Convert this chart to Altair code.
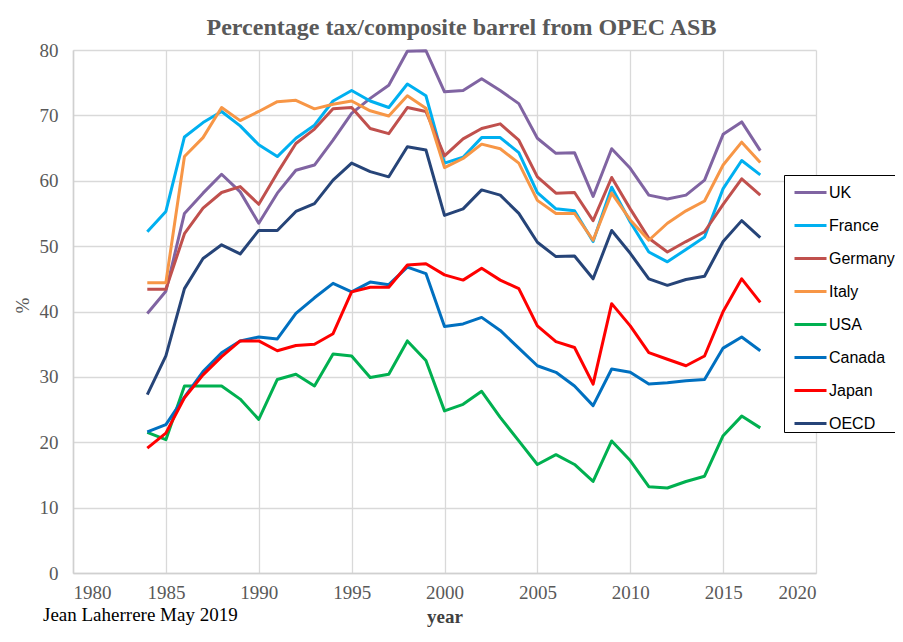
import altair as alt
import pandas as pd

years = list(range(1984, 2018))
series_names = ["UK", "France", "Germany", "Italy", "USA", "Canada", "Japan", "OECD"]
series_colors = ["#8064A2", "#00B0F0", "#C0504D", "#F79646", "#00B050", "#0070C0", "#FF0000", "#264478"]

uk = [39.7, 43.1, 55.0, 58.1, 61.0, 58.3, 53.5, 58.1, 61.6, 62.4, 66.2, 70.3, 72.6, 74.6, 79.8, 79.9,
      73.6, 73.8, 75.6, 73.8, 71.8, 66.5, 64.2, 64.3, 57.6, 64.9, 61.9, 57.8, 57.2, 57.8, 60.1, 67.1, 69.0, 64.6]
france = [52.2, 55.3, 66.7, 68.9, 70.6, 68.4, 65.5, 63.7, 66.5, 68.5, 72.2, 73.8, 72.2, 71.2, 74.8, 73.0,
          62.7, 63.6, 66.6, 66.6, 64.3, 58.2, 55.7, 55.4, 50.7, 59.0, 53.7, 49.1, 47.6, 49.5, 51.4, 58.8, 63.1, 60.9]
germany = [43.4, 43.4, 51.9, 55.8, 58.2, 59.1, 56.4, 61.2, 65.7, 67.9, 71.0, 71.2, 68.0, 67.2, 71.2, 70.6,
           63.8, 66.4, 68.0, 68.7, 66.2, 60.6, 58.1, 58.2, 53.9, 60.5, 55.7, 51.2, 49.1, 50.7, 52.2, 56.4, 60.3, 57.8]
italy = [44.4, 44.4, 63.7, 66.6, 71.2, 69.2, 70.6, 72.1, 72.3, 71.0, 71.7, 72.2, 70.7, 69.9, 73.0, 71.1,
         62.0, 63.4, 65.6, 64.9, 62.7, 57.0, 55.0, 55.0, 50.9, 58.1, 54.0, 50.9, 53.5, 55.4, 56.9, 62.4, 65.9, 62.8]
usa = [21.5, 20.4, 28.6, 28.6, 28.6, 26.6, 23.5, 29.6, 30.4, 28.6, 33.5, 33.2, 29.9, 30.4, 35.5, 32.5,
       24.8, 25.8, 27.8, 23.8, 20.2, 16.6, 18.1, 16.6, 14.0, 20.2, 17.2, 13.2, 13.0, 14.0, 14.8, 21.0, 24.0, 22.2]
canada = [21.6, 22.7, 26.9, 30.8, 33.7, 35.5, 36.1, 35.8, 39.7, 42.1, 44.3, 43.0, 44.5, 44.1, 46.8, 45.8,
          37.7, 38.1, 39.1, 37.1, 34.4, 31.7, 30.7, 28.6, 25.6, 31.2, 30.7, 28.9, 29.1, 29.4, 29.6, 34.4, 36.1, 34.0]
japan = [19.1, 21.4, 26.8, 30.3, 33.1, 35.5, 35.5, 34.0, 34.8, 35.0, 36.6, 43.0, 43.7, 43.7, 47.1, 47.3,
         45.6, 44.8, 46.6, 44.8, 43.5, 37.8, 35.4, 34.5, 28.9, 41.2, 37.8, 33.7, 32.7, 31.7, 33.2, 40.0, 45.0, 41.4]
oecd = [27.3, 33.2, 43.5, 48.1, 50.2, 48.8, 52.4, 52.4, 55.3, 56.5, 60.1, 62.7, 61.4, 60.6, 65.2, 64.7,
        54.7, 55.7, 58.6, 57.8, 55.0, 50.6, 48.4, 48.5, 45.0, 52.4, 48.9, 45.0, 44.0, 44.9, 45.4, 50.7, 53.9, 51.3]

x_ticks = [1980, 1985, 1990, 1995, 2000, 2005, 2010, 2015, 2020]
y_ticks = [0, 10, 20, 30, 40, 50, 60, 70, 80]
title_text = "Percentage tax/composite barrel from OPEC ASB"
credit_text = "Jean Laherrere May 2019"

values = [uk, france, germany, italy, usa, canada, japan, oecd]
rows = []
for i, (name, vals) in enumerate(zip(series_names, values)):
    for yr, v in zip(years, vals):
        rows.append({"year": yr, "value": v, "series": name, "k": i})
df = pd.DataFrame(rows)

serif = "Liberation Serif"

lines = alt.Chart(df).mark_line(strokeWidth=3, strokeJoin="round").encode(
    x=alt.X("year:Q",
            scale=alt.Scale(domain=[1980, 2020], nice=False, zero=False),
            axis=alt.Axis(values=x_ticks, format="d", title="year",
                          titleFontWeight="bold", titleColor="#3F3F3F",
                          titleFont=serif, titleFontSize=19,
                          titleBaseline="alphabetic", titleY=49)),
    y=alt.Y("value:Q",
            scale=alt.Scale(domain=[0, 80], nice=False),
            axis=alt.Axis(values=y_ticks, title="%", titleFont=serif,
                          titleFontSize=19, titleFontWeight="normal",
                          titleColor="#595959", titleX=-51, titleY=255,
                          titleAngle=-90, titleAlign="center",
                          titleBaseline="middle")),
    color=alt.Color("series:N",
                    scale=alt.Scale(domain=series_names, range=series_colors),
                    legend=alt.Legend(title=None, orient="none", legendX=711, legendY=125,
                                      symbolType="stroke", symbolSize=1024,
                                      symbolStrokeWidth=3, symbolOffset=9,
                                      labelFont="Liberation Sans",
                                      labelFontSize=16, labelColor="#000000",
                                      labelOffset=1, padding=0, rowPadding=7,
                                      strokeColor="#000000", fillColor="#FFFFFF",
                                      labelLimit=200)),
    detail="series:N",
    order="k:Q",
)

credit = alt.Chart(pd.DataFrame({"t": [credit_text]})).mark_text(
    font=serif, fontSize=19, align="left", baseline="alphabetic", color="#000000"
).encode(text="t:N", x=alt.value(-30), y=alt.value(571))

chart = alt.layer(lines, credit).properties(
    width=743, height=523,
    autosize=alt.AutoSizeParams(type="none"),
    padding={"left": 65, "top": 42, "right": 79, "bottom": 58},
    title=alt.TitleParams(title_text, font=serif, fontSize=24, fontWeight="bold",
                          color="#595959", anchor="middle", dx=17, dy=31, offset=13,
                          baseline="alphabetic"),
).configure_view(stroke=None).configure_axis(
    gridColor="#D9D9D9", gridWidth=1.3, domainColor="#D0D0D0", domainWidth=1.5,
    ticks=False, labelFont=serif, labelFontSize=19, labelColor="#595959",
).configure_axisX(labelPadding=10).configure_axisY(labelPadding=15)

chart.save("out.html", embed_options={"renderer": "svg", "actions": False})
